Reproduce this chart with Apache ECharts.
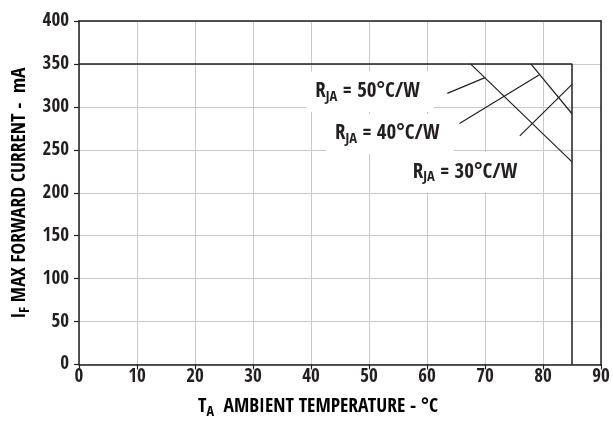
<!DOCTYPE html>
<html><head><meta charset="utf-8">
<script src="https://cdn.jsdelivr.net/npm/echarts@6/dist/echarts.min.js"></script>
<style>html,body{margin:0;padding:0;background:#fff}#c{width:613px;height:423px}</style>
</head><body><div id="c"></div>
<script>
// ---- data ----
const xMin = 0, xMax = 90, xStep = 10;
const yMin = 0, yMax = 400, yStep = 50;
const limitCurve = [[0, 350], [85, 350], [85, 0]];
const derateA = [[67.5, 350], [85, 236]];
const derateB = [[77.9, 350], [85, 292]];
const leader50 = [[63.5, 315.7], [70.1, 334.3]];
const leader40 = [[65.6, 280.7], [79.3, 337]];
const leader30 = [[76.0, 266.2], [85, 326.2]];
const labelValues = ['50', '40', '30'];
const labelAnchors = [[50.2, 317.5], [53.6, 268.5], [67.0, 224]];
const xTitle = ['T', 'A', '  AMBIENT TEMPERATURE - °C'];
const yTitle = ['I', 'F', ' MAX FORWARD CURRENT -  mA'];

const FONT = '"Open Sans Condensed", "Roboto Condensed", sans-serif';
const INK = '#231f20';
const GRIDC = '#c6c9cd';

const chart = echarts.init(document.getElementById('c'), null, {renderer: 'canvas'});
const richTitle = {
  m: {fontFamily: FONT, fontWeight: 'bold', fontSize: 19.5, color: INK},
  s: {fontFamily: FONT, fontWeight: 'bold', fontSize: 14, color: INK, padding: [10, 0, 0, 0]}
};
const richLabel = {
  m: {fontFamily: FONT, fontWeight: 'bold', fontSize: 21, color: INK},
  s: {fontFamily: FONT, fontWeight: 'bold', fontSize: 14.5, color: INK, padding: [11, 0, 0, 0]}
};
function lineSeries(data, w) {
  return {type: 'line', data: data, symbol: 'none', silent: true,
    lineStyle: {color: INK, width: w || 1.2}, animation: false, z: 3};
}
const option = {
  animation: false,
  backgroundColor: '#fff',
  grid: {left: 79, top: 21, right: 12, bottom: 58.5},
  xAxis: [{
    type: 'value', min: xMin, max: xMax, interval: xStep,
    axisLine: {show: true, lineStyle: {color: INK, width: 1.5}},
    axisTick: {show: true, length: 5, lineStyle: {color: INK, width: 1.2}},
    axisLabel: {fontFamily: FONT, fontWeight: 'bold', fontSize: 19, color: INK, margin: 3},
    splitLine: {show: true, lineStyle: {color: GRIDC, width: 1}}
  }, {
    type: 'value', position: 'top', min: xMin, max: xMax, interval: xStep,
    axisLine: {show: true, onZero: false, lineStyle: {color: INK, width: 1.5}},
    axisTick: {show: false}, axisLabel: {show: false}, splitLine: {show: false}
  }],
  yAxis: [{
    type: 'value', min: yMin, max: yMax, interval: yStep,
    axisLine: {show: true, lineStyle: {color: INK, width: 1.5}},
    axisTick: {show: true, length: 5, lineStyle: {color: INK, width: 1.2}},
    axisLabel: {fontFamily: FONT, fontWeight: 'bold', fontSize: 19, color: INK, margin: 10},
    splitLine: {show: true, lineStyle: {color: GRIDC, width: 1}}
  }, {
    type: 'value', position: 'right', min: yMin, max: yMax, interval: yStep,
    axisLine: {show: true, onZero: false, lineStyle: {color: INK, width: 1.5}},
    axisTick: {show: false}, axisLabel: {show: false}, splitLine: {show: false}
  }],
  series: [
    lineSeries(limitCurve, 1.5),
    lineSeries(derateA), lineSeries(derateB),
    lineSeries(leader50), lineSeries(leader40), lineSeries(leader30),
    {
      type: 'scatter', symbolSize: 0, silent: true, z: 2,
      itemStyle: {opacity: 1},
      data: labelAnchors.map((p, i) => ({value: p, name: labelValues[i]})),
      label: {
        show: true, position: 'inside', opacity: 1, color: INK,
        backgroundColor: '#fff', padding: [7, 14, 7, 9],
        formatter: p => '{m|R}{s|JA}{m| = ' + p.name + '°C/W}',
        rich: richLabel
      }
    }
  ],
  graphic: [
    {type: 'text', x: 318, y: 407, silent: true,
      style: {text: '{m|' + xTitle[0] + '}{s|' + xTitle[1] + '}{m|' + xTitle[2] + '}',
        rich: richTitle, align: 'center', verticalAlign: 'middle'}},
    {type: 'text', x: 20, y: 193, rotation: Math.PI / 2, silent: true,
      style: {text: '{m|' + yTitle[0] + '}{s|' + yTitle[1] + '}{m|' + yTitle[2] + '}',
        rich: richTitle, align: 'center', verticalAlign: 'middle'}}
  ]
};
chart.setOption(option);
</script></body></html>
